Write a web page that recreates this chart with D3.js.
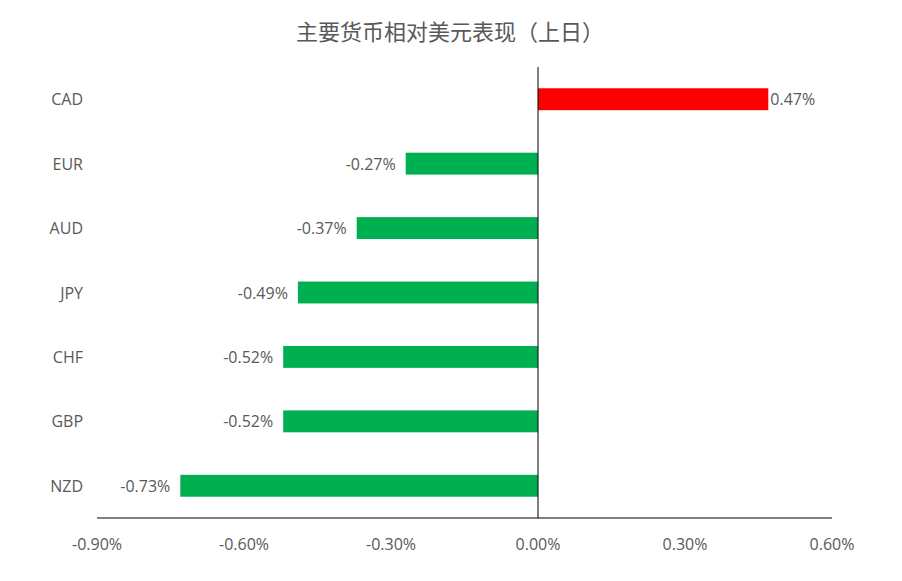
<!DOCTYPE html>
<html><head><meta charset="utf-8">
<script src="https://d3js.org/d3.v7.min.js"></script>
<style>body{margin:0;background:#fff}text{font-family:"Open Sans","Noto Sans CJK SC",sans-serif;fill:#595959}</style>
</head><body><svg id="c" width="902" height="581"></svg>
<script>
const categories=["CAD","EUR","AUD","JPY","CHF","GBP","NZD"];
const values=[0.47,-0.27,-0.37,-0.49,-0.52,-0.52,-0.73];
const ticks=[-0.9,-0.6,-0.3,0,0.3,0.6];
const title="主要货币相对美元表现（上日）";
const svg=d3.select("#c");
const x=d3.scaleLinear().domain([-0.9,0.6]).range([97,832]);
const y=d3.scaleBand().domain(categories).range([67,518]).paddingInner(0.66).paddingOuter(0.33);
svg.append("text").attr("x",450).attr("y",40).attr("text-anchor","middle").style("font-size","22px").text(title);
svg.append("line").attr("x1",97).attr("x2",832).attr("y1",518).attr("y2",518).attr("stroke","#000");
svg.selectAll("rect").data(values).join("rect")
 .attr("x",d=>x(Math.min(0,d))).attr("width",d=>Math.abs(x(d)-x(0)))
 .attr("y",(d,i)=>y(categories[i])).attr("height",y.bandwidth())
 .attr("fill",d=>d>0?"#FF0000":"#00B050");
svg.append("line").attr("x1",x(0)).attr("x2",x(0)).attr("y1",67).attr("y2",518).attr("stroke","#000");
svg.selectAll(".v").data(values).join("text")
 .attr("x",d=>d>0?x(d)+2:x(d)-10).attr("y",(d,i)=>y(categories[i])+y.bandwidth()/2+6)
 .attr("text-anchor",d=>d>0?"start":"end").style("font-size","16px")
 .text(d=>d.toFixed(2)+"%");
svg.selectAll(".c").data(categories).join("text")
 .attr("x",83).attr("y",d=>y(d)+y.bandwidth()/2+6).attr("text-anchor","end").style("font-size","16px").text(d=>d);
svg.selectAll(".t").data(ticks).join("text")
 .attr("x",d=>x(d)).attr("y",550).attr("text-anchor","middle").style("font-size","16px").text(d=>d.toFixed(2)+"%");
</script></body></html>
